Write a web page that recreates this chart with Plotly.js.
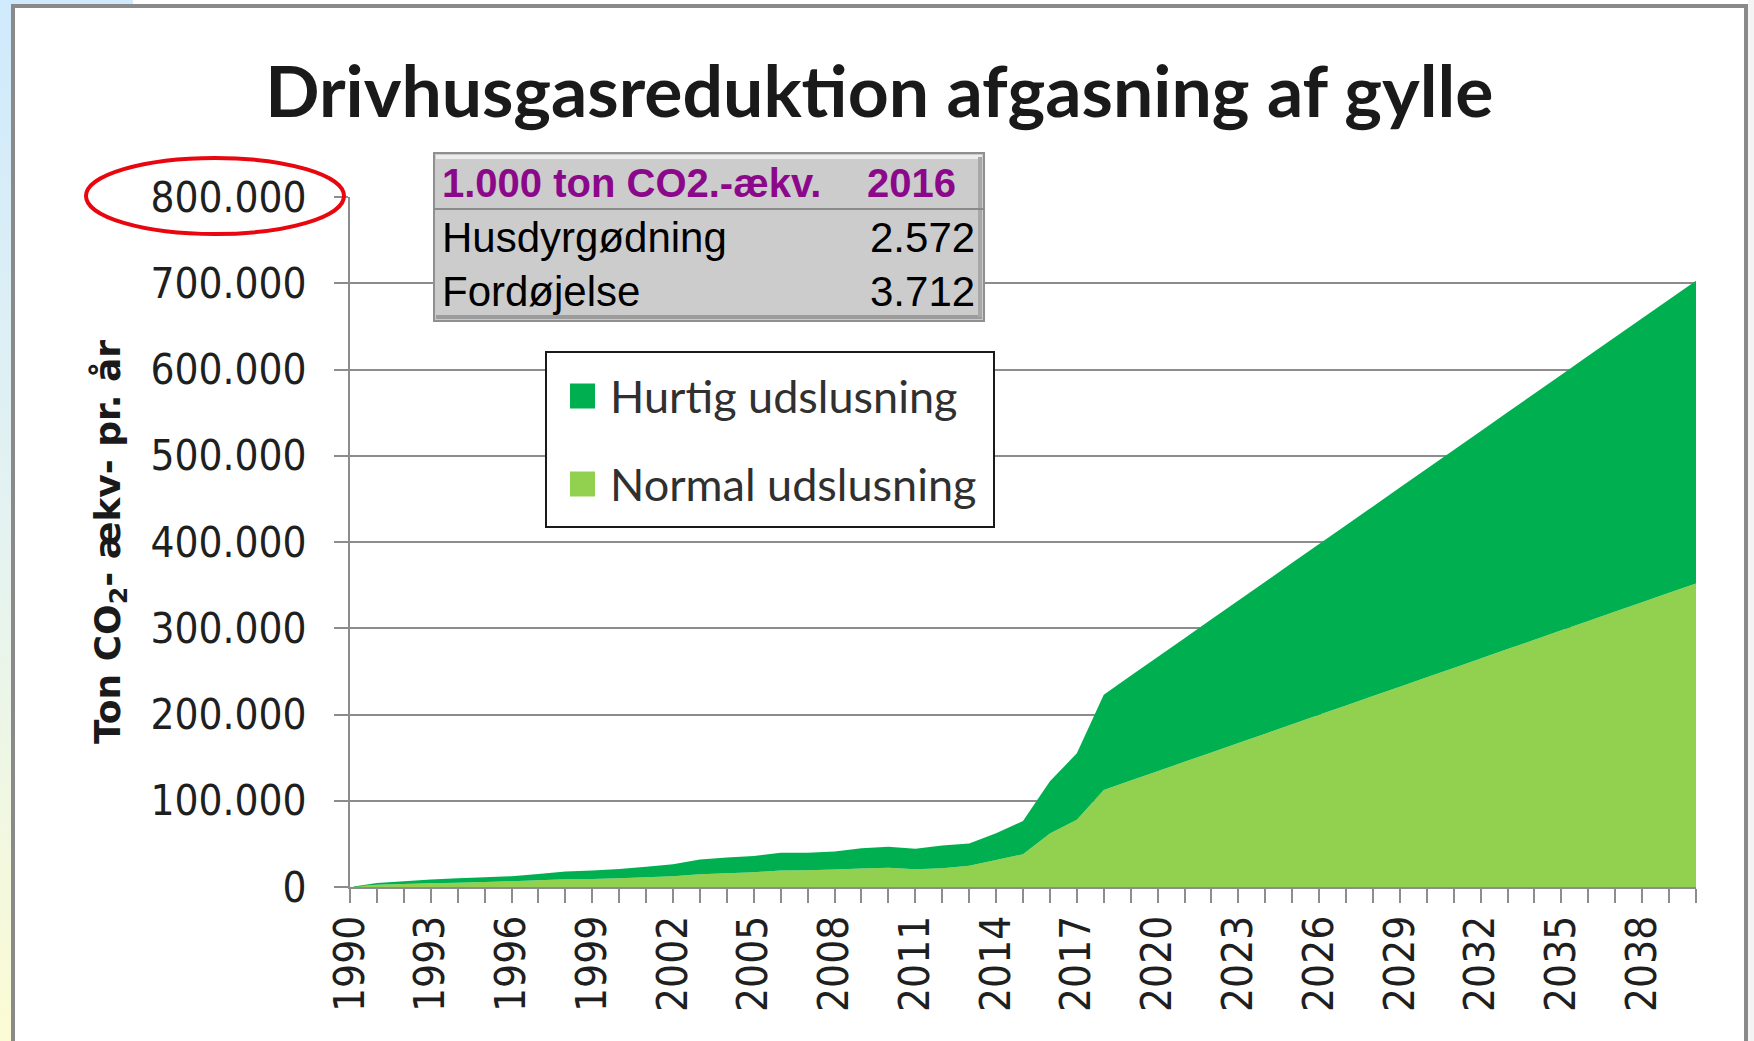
<!DOCTYPE html>
<html>
<head>
<meta charset="utf-8">
<script src="https://cdn.plot.ly/plotly-3.0.1.min.js"></script>
<style>
  html, body { margin: 0; padding: 0; width: 1754px; height: 1041px; overflow: hidden; }
  body { background: linear-gradient(to bottom, #cfeafc 0%, #e6f3ef 55%, #fbfbd4 100%); position: relative; }
  #topwhite { position: absolute; left: 133px; top: 0; width: 1621px; height: 4px; background: #ffffff; }
  #rightstrip { position: absolute; left: 1748px; top: 0; width: 6px; height: 1041px; background: #f4f4f4; }
  #frame { position: absolute; left: 11px; top: 4px; width: 1729px; height: 1050px; background: #ffffff;
           border-left: 4px solid #8a8a8a; border-top: 4px solid #8a8a8a; border-right: 4px solid #8a8a8a; }
  #chart { position: absolute; left: 0; top: 0; width: 1754px; height: 1041px; }
</style>
</head>
<body>
<div id="topwhite"></div>
<div id="rightstrip"></div>
<div id="frame"></div>
<div id="chart"></div>
<script>
// ---------- data ----------
const years = [1990,1991,1992,1993,1994,1995,1996,1997,1998,1999,
               2000,2001,2002,2003,2004,2005,2006,2007,2008,2009,
               2010,2011,2012,2013,2014,2015,2016,2017,2018,2019,
               2020,2021,2022,2023,2024,2025,2026,2027,2028,2029,
               2030,2031,2032,2033,2034,2035,2036,2037,2038,2039,2040];

// Normal udslusning (bottom layer, light green), ton CO2-ækv. pr. år
const normalUdslusning = [0,2700,3500,4300,5000,5800,6600,7800,9000,9400,
                          10100,11300,12500,14800,16000,17200,19100,19500,20300,21400,
                          22200,20700,21800,24600,31200,38000,62000,78000,112500,123400,
                          134300,145200,156000,166900,177800,188700,199600,210500,221400,232300,
                          243100,254000,264900,275800,286700,297600,308500,319400,330200,341100,352000];

// Hurtig udslusning (stacked on top, dark green)
const hurtigUdslusning = [0,2000,3100,4300,5100,5500,5900,7400,8900,9700,
                          10900,12100,14000,17200,18300,18700,20700,20300,21000,23400,
                          24600,23700,26200,25700,31200,38500,60500,77000,110500,121500,
                          132400,143300,154300,165200,176100,187100,198000,208900,219900,230800,
                          241700,252700,263600,274500,285500,296400,307300,318300,329200,340100,351000];

const xTickLabels = ['1990','1993','1996','1999','2002','2005','2008','2011','2014','2017',
                     '2020','2023','2026','2029','2032','2035','2038'];

const seriesNames = ['Normal udslusning', 'Hurtig udslusning'];
const legendOrder = ['Hurtig udslusning', 'Normal udslusning'];

// info table
const tableHeader = ['1.000 ton CO2.-ækv.', '2016'];
const tableRowLabels = ['Husdyrgødning', 'Fordøjelse'];
const tableRowValues = ['2.572', '3.712'];

const titleText = 'Drivhusgasreduktion afgasning af gylle';
const yTitleText = 'Ton CO<sub>2</sub>- ækv- pr. år';

// ---------- styling ----------
const colorNormal = '#92D050';
const colorHurtig = '#00B050';
const gridColor = '#8c8c8c';
const tickFont = { family: 'DejaVu Sans Condensed, DejaVu Sans, sans-serif', size: 42, color: '#1f1f1f' };

// figure geometry (pixels) -> paper coordinates
const W = 1754, H = 1041;
const M = { l: 350, r: 58, t: 197, b: 154 };
const PW = W - M.l - M.r, PH = H - M.t - M.b;
const px = x => (x - M.l) / PW;
const py = y => (H - M.b - y) / PH;

const traces = [
  { x: years, y: normalUdslusning, name: seriesNames[0], type: 'scatter', mode: 'none',
    stackgroup: 'one', fillcolor: colorNormal, line: { width: 0 }, hoverinfo: 'skip', showlegend: false },
  { x: years, y: hurtigUdslusning, name: seriesNames[1], type: 'scatter', mode: 'none',
    stackgroup: 'one', fillcolor: colorHurtig, line: { width: 0 }, hoverinfo: 'skip', showlegend: false }
];

const tickvals = xTickLabels.map(Number);

const shapes = [];
const annotations = [];

// info table box (bevelled grey)
shapes.push({ type: 'rect', xref: 'paper', yref: 'paper', x0: px(434), x1: px(984), y0: py(153), y1: py(321),
  fillcolor: '#cccccc', line: { color: '#8f8f8f', width: 2 }, layer: 'above' });
shapes.push({ type: 'line', xref: 'paper', yref: 'paper', x0: px(436), x1: px(982), y0: py(157), y1: py(157),
  line: { color: '#ececec', width: 4 }, layer: 'above' });
shapes.push({ type: 'line', xref: 'paper', yref: 'paper', x0: px(436), x1: px(982), y0: py(317), y1: py(317),
  line: { color: '#9c9c9c', width: 4 }, layer: 'above' });
shapes.push({ type: 'line', xref: 'paper', yref: 'paper', x0: px(980), x1: px(980), y0: py(157), y1: py(317),
  line: { color: '#a8a8a8', width: 4 }, layer: 'above' });
shapes.push({ type: 'line', xref: 'paper', yref: 'paper', x0: px(434), x1: px(984), y0: py(209), y1: py(209),
  line: { color: '#8a8a8a', width: 2 }, layer: 'above' });

const tblFont = { family: 'Liberation Sans, Arial, sans-serif', size: 42, color: '#000000' };
const hdrFont = { family: 'Liberation Sans, Arial, sans-serif', size: 40, color: '#8B088B', weight: 'bold' };
annotations.push({ xref: 'paper', yref: 'paper', x: px(440), y: py(183), xanchor: 'left', yanchor: 'middle',
  text: '<b>' + tableHeader[0] + '</b>', showarrow: false, font: hdrFont });
annotations.push({ xref: 'paper', yref: 'paper', x: px(865), y: py(183), xanchor: 'left', yanchor: 'middle',
  text: '<b>' + tableHeader[1] + '</b>', showarrow: false, font: hdrFont });
tableRowLabels.forEach((lab, i) => {
  const yc = [238, 292][i];
  annotations.push({ xref: 'paper', yref: 'paper', x: px(440), y: py(yc), xanchor: 'left', yanchor: 'middle',
    text: lab, showarrow: false, font: tblFont });
  annotations.push({ xref: 'paper', yref: 'paper', x: px(977), y: py(yc), xanchor: 'right', yanchor: 'middle',
    text: tableRowValues[i], showarrow: false, font: tblFont });
});

// legend box
shapes.push({ type: 'rect', xref: 'paper', yref: 'paper', x0: px(546), x1: px(994), y0: py(352), y1: py(527),
  fillcolor: '#ffffff', line: { color: '#1a1a1a', width: 2 }, layer: 'above' });
const legColors = { 'Hurtig udslusning': colorHurtig, 'Normal udslusning': colorNormal };
legendOrder.forEach((name, i) => {
  const yc = [396, 484][i];
  shapes.push({ type: 'rect', xref: 'paper', yref: 'paper', x0: px(570), x1: px(595), y0: py(yc - 12.5), y1: py(yc + 12.5),
    fillcolor: legColors[name], line: { width: 0 }, layer: 'above' });
  annotations.push({ xref: 'paper', yref: 'paper', x: px(608), y: py(yc), xanchor: 'left', yanchor: 'middle',
    text: name, showarrow: false, font: { family: 'Lato, Carlito, sans-serif', size: 45, color: '#303030' } });
});

// red highlight ellipse around top tick label
shapes.push({ type: 'circle', xref: 'paper', yref: 'paper', x0: px(86), x1: px(344), y0: py(158), y1: py(234),
  line: { color: '#e8070f', width: 4 }, layer: 'above' });

const layout = {
  width: W, height: H,
  margin: M,
  paper_bgcolor: 'rgba(0,0,0,0)',
  plot_bgcolor: 'rgba(0,0,0,0)',
  separators: ',.',
  showlegend: false,
  title: {
    text: '<b>' + titleText + '</b>',
    font: { family: 'Lato, Carlito, sans-serif', size: 71.5, color: '#1a1a1a' },
    x: 0.5013, xref: 'container', xanchor: 'center',
    y: 1 - 92 / H, yref: 'container', yanchor: 'middle'
  },
  xaxis: {
    type: 'linear', range: [1990, 2040], fixedrange: true,
    tickmode: 'array', tickvals: tickvals, ticktext: xTickLabels,
    tickangle: -90, tickfont: tickFont,
    ticks: 'outside', ticklen: 14, tickwidth: 2, tickcolor: gridColor,
    minor: { dtick: 1, tick0: 1990, ticks: 'outside', ticklen: 14, tickwidth: 2, tickcolor: gridColor, showgrid: false },
    showline: true, linecolor: gridColor, linewidth: 2,
    showgrid: false, zeroline: false,
    ticklabelstandoff: -4
  },
  yaxis: {
    range: [0, 800000], dtick: 100000, tickformat: ',d', fixedrange: true,
    tickfont: tickFont,
    ticks: 'outside', ticklen: 14, tickwidth: 2, tickcolor: gridColor,
    showline: true, linecolor: gridColor, linewidth: 2,
    showgrid: true, gridcolor: gridColor, gridwidth: 2, zeroline: false,
    ticklabelstandoff: 19,
    title: { text: '<b>' + yTitleText + '</b>', standoff: 19,
             font: { family: 'DejaVu Sans, sans-serif', size: 36, color: '#1a1a1a' } }
  },
  shapes: shapes,
  annotations: annotations
};

Plotly.newPlot('chart', traces, layout, { staticPlot: true, displayModeBar: false });
</script>
</body>
</html>
